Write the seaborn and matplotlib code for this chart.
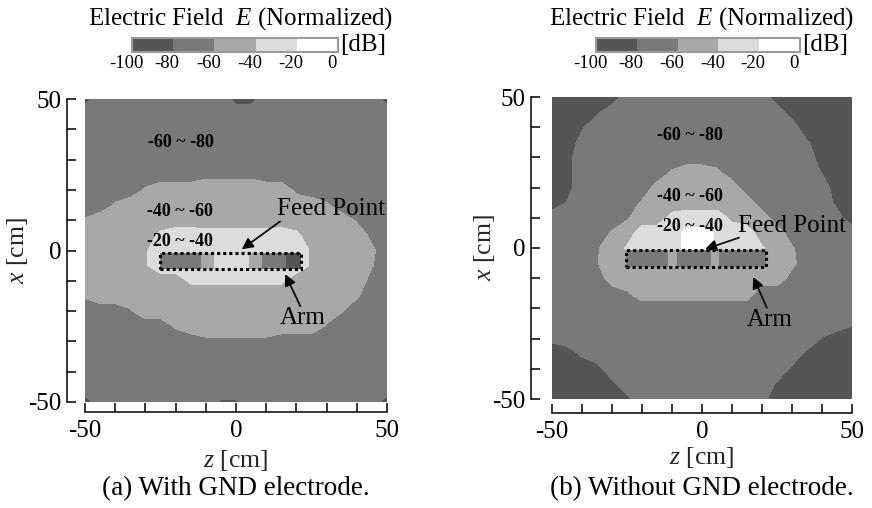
import numpy as np
import matplotlib
matplotlib.use("Agg")
import matplotlib.pyplot as plt
import matplotlib.transforms as mtransforms
from matplotlib.patches import Rectangle
import seaborn as sns

# ---------------- data ----------------
z_cm = [-50, -45, -40, -35, -30, -25, -20, -15, -10, -5, 0, 5, 10, 15, 20, 25, 30, 35, 40, 45, 50]
x_cm = [50, 45, 40, 35, 30, 25, 20, 15, 10, 5, 0, -5, -10, -15, -20, -25, -30, -35, -40, -45, -50]

levels_db = [-100, -80, -60, -40, -20, 0]
level_colors = ["#555555", "#797979", "#a8a8a8", "#dcdcdc", "#ffffff"]
cbar_labels = ["-100", "-80", "-60", "-40", "-20", "0"]

axis_ticks = [-50, -40, -30, -20, -10, 0, 10, 20, 30, 40, 50]
axis_ticklabels = ["-50", "", "", "", "", "0", "", "", "", "", "50"]

# (a) With GND electrode: normalized |E| in dB on the z-x grid (rows: x = 50 ... -50)
field_a = [
    [-86, -70, -70, -70, -70, -70, -70, -70, -70, -70, -86, -86, -70, -70, -70, -70, -70, -70, -70, -70, -86],
    [-70] * 21,
    [-70] * 21,
    [-70] * 21,
    [-70] * 21,
    [-70, -70, -70, -70, -70, -70, -70, -70, -64, -64, -64, -64, -70, -70, -70, -70, -70, -70, -70, -70, -70],
    [-70, -70, -70, -70, -58, -50, -50, -50, -50, -50, -50, -50, -50, -50, -64, -70, -70, -70, -70, -70, -70],
    [-70, -70, -58, -50, -50, -50, -50, -50, -50, -50, -50, -50, -50, -50, -50, -50, -58, -70, -70, -70, -70],
    [-58, -50, -50, -50, -50, -50, -50, -50, -52, -52, -52, -52, -52, -50, -50, -50, -50, -50, -62, -70, -70],
    [-50, -50, -50, -50, -50, -36, -30, -30, -30, -30, -30, -30, -30, -30, -36, -50, -50, -50, -50, -64, -70],
    [-50, -50, -50, -50, -42, -30, -30, -30, -30, -30, -30, -30, -30, -30, -30, -42, -50, -50, -50, -57, -70],
    [-50, -50, -50, -50, -42, -30, -30, -30, -30, -30, -30, -30, -30, -30, -30, -42, -50, -50, -50, -59, -70],
    [-50, -50, -50, -50, -50, -50, -50, -37, -37, -37, -37, -37, -37, -37, -50, -50, -50, -50, -50, -66, -70],
    [-58, -50, -50, -50, -50, -50, -50, -50, -50, -50, -50, -50, -50, -50, -50, -50, -50, -50, -58, -70, -70],
    [-70, -70, -70, -62, -50, -50, -50, -50, -50, -50, -50, -50, -50, -50, -50, -50, -50, -59, -70, -70, -70],
    [-70, -70, -70, -70, -70, -70, -58, -50, -50, -50, -50, -50, -50, -50, -50, -50, -62, -70, -70, -70, -70],
    [-70, -70, -70, -70, -70, -70, -70, -70, -64, -64, -64, -64, -64, -70, -70, -70, -70, -70, -70, -70, -70],
    [-70] * 21,
    [-70] * 21,
    [-70] * 21,
    [-88, -70, -70, -70, -70, -70, -70, -70, -70, -82, -82, -70, -70, -70, -70, -70, -70, -70, -70, -70, -88],
]

# (b) Without GND electrode
field_b = [
    [-90, -90, -90, -90, -90, -70, -70, -70, -70, -70, -70, -70, -70, -70, -70, -90, -90, -90, -90, -90, -90],
    [-90, -90, -90, -83, -70, -70, -70, -70, -70, -70, -70, -70, -70, -70, -70, -70, -90, -90, -90, -90, -90],
    [-90, -90, -82, -70, -70, -70, -70, -70, -70, -70, -70, -70, -70, -70, -70, -70, -70, -95, -90, -90, -90],
    [-90, -90, -74, -70, -70, -70, -70, -70, -70, -70, -70, -70, -70, -70, -70, -70, -70, -78, -90, -90, -90],
    [-90, -86, -70, -70, -70, -70, -70, -70, -70, -70, -70, -70, -70, -70, -70, -70, -70, -70, -90, -90, -90],
    [-90, -86, -70, -70, -70, -70, -70, -70, -58, -50, -50, -56, -70, -70, -70, -70, -70, -70, -81, -90, -90],
    [-90, -86, -70, -70, -70, -70, -70, -54, -50, -50, -50, -50, -50, -70, -70, -70, -70, -70, -70, -90, -90],
    [-90, -79, -70, -70, -70, -70, -58, -50, -50, -50, -50, -50, -50, -50, -70, -70, -70, -70, -70, -84, -90],
    [-70, -70, -70, -70, -70, -62, -50, -50, -34, -30, -30, -30, -44, -50, -50, -70, -70, -70, -70, -74, -90],
    [-70, -70, -70, -70, -58, -50, -30, -30, -30, -14, -14, -22, -30, -30, -50, -50, -70, -70, -70, -70, -70],
    [-70, -70, -70, -62, -50, -38, -30, -30, -30, -14, -14, -22, -30, -30, -38, -50, -58, -70, -70, -70, -70],
    [-70, -70, -70, -61, -50, -50, -45, -45, -45, -45, -45, -45, -45, -45, -45, -50, -56, -70, -70, -70, -70],
    [-70, -70, -70, -70, -50, -50, -50, -50, -50, -50, -50, -50, -50, -50, -50, -50, -66, -70, -70, -70, -70],
    [-70, -70, -70, -70, -70, -62, -50, -50, -50, -50, -50, -50, -50, -50, -70, -70, -70, -70, -70, -70, -70],
    [-70] * 21,
    [-70] * 20 + [-78],
    [-76] + [-70] * 17 + [-81, -90, -90],
    [-90, -90, -77] + [-70] * 14 + [-84, -90, -90, -90],
    [-90, -90, -90, -86] + [-70] * 12 + [-83, -90, -90, -90, -90],
    [-90, -90, -90, -90, -84] + [-70] * 10 + [-82, -90, -90, -90, -90, -90],
    [-90, -90, -90, -90, -90, -84] + [-70] * 8 + [-74, -90, -90, -90, -90, -90, -90],
]

# field along the dipole arm (inside the dotted box)
arm_z = [-25.3, -21, -17, -13, -10, -7, -3, 1, 4, 7, 10, 14, 18, 21.4]
arm_x = [-6.2, -0.7]
arm_a = [-64, -70, -72, -66, -52, -38, -28, -28, -38, -52, -68, -72, -84, -88]
arm_b = [-68, -70, -70, -66, -54, -64, -70, -68, -56, -64, -70, -74, -76, -76]

region_labels = ["-60 ~ -80", "-40 ~ -60", "-20 ~ -40"]
captions = ["(a) With GND electrode.", "(b) Without GND electrode."]

# ---------------- style ----------------
sns.set_theme(style="ticks")
plt.rcParams["font.family"] = ["Liberation Serif", "DejaVu Serif"]
plt.rcParams["mathtext.fontset"] = "custom"
plt.rcParams["mathtext.rm"] = "Liberation Serif"
plt.rcParams["mathtext.it"] = "Liberation Serif:italic"
plt.rcParams["axes.unicode_minus"] = False
plt.rcParams["axes.edgecolor"] = "black"
plt.rcParams["xtick.color"] = "black"
plt.rcParams["ytick.color"] = "black"
plt.rcParams["text.color"] = "black"

W, H = 872, 508
fig = plt.figure(figsize=(W / 100, H / 100), dpi=100)


def fx(px):
    return px / W


def fy(py):
    return 1 - py / H


panels = [
    dict(field=field_a, arm=arm_a,
         ax_box=(85, 99, 387, 402), cbar_box=(132, 38, 338, 52),
         spine_off=(13.0, 7.0), title_x=240, db_x=340,
         labels_xy=[(-29, 35.5), (-29.5, 12.9), (-29.5, 2.9)],
         feed_text=(13.5, 13.7), feed_arrow=((14.6, 9.6), (1.9, 0.4)),
         arm_text=(22, -22.4), arm_arrow=((21.3, -18.4), (16.3, -7.8)),
         caption=captions[0]),
    dict(field=field_b, arm=arm_b,
         ax_box=(552, 97, 852, 399), cbar_box=(596, 38, 800, 52),
         spine_off=(15.0, 10.0), title_x=701, db_x=802,
         labels_xy=[(-15.1, 37.1), (-15.1, 17.0), (-15.1, 7.0)],
         feed_text=(12.1, 7.4), feed_arrow=((12.3, 3.4), (1.0, -0.4)),
         arm_text=(22.4, -23.7), arm_arrow=((21.6, -19.8), (17.1, -9.6)),
         caption=captions[1]),
]

for p in panels:
    l, t, r, b = p["ax_box"]
    ax = fig.add_axes([fx(l), fy(b), fx(r) - fx(l), fy(t) - fy(b)])
    cs = ax.contourf(z_cm, x_cm, np.array(p["field"], dtype=float),
                     levels=levels_db, colors=level_colors)
    ax.contourf(arm_z, arm_x, np.array([p["arm"], p["arm"]], dtype=float),
                levels=levels_db, colors=level_colors)
    ax.add_patch(Rectangle((arm_z[0], arm_x[0]), arm_z[-1] - arm_z[0], arm_x[1] - arm_x[0],
                           fill=False, ec="black", lw=2.2, ls=(0, (1, 1)),
                           capstyle="butt", zorder=5))
    ax.set_xlim(-50, 50)
    ax.set_ylim(-50, 50)
    ax.set_xticks(axis_ticks)
    ax.set_xticklabels(axis_ticklabels)
    ax.set_yticks(axis_ticks)
    ax.set_yticklabels(axis_ticklabels)
    ax.tick_params(direction="in", length=6.5, width=1.1, labelsize=18, pad=4)
    ax.tick_params(axis="x", pad=6)
    for s in ["left", "bottom"]:
        ax.spines[s].set_linewidth(1.1)
    sns.despine(ax=ax, offset={"left": p["spine_off"][0], "bottom": p["spine_off"][1]})
    ax.set_xlabel("$z$ [cm]", fontsize=18.5)
    ax.set_ylabel("$x$ [cm]", fontsize=18.5)
    ax.xaxis.set_label_coords(0.5, -0.152)
    ax.yaxis.set_label_coords(-0.182, 0.5)

    # region labels
    for txt, (zz, xx) in zip(region_labels, p["labels_xy"]):
        ax.text(zz, xx, txt, fontsize=13, fontweight="bold", ha="left", va="center", zorder=6)
    ax.text(*p["feed_text"], "Feed Point", fontsize=18, ha="left", va="center", zorder=6)
    ax.text(*p["arm_text"], "Arm", fontsize=18, ha="center", va="center", zorder=6)
    for (tail, tip) in [p["feed_arrow"], p["arm_arrow"]]:
        ax.annotate("", xy=tip, xytext=tail,
                    arrowprops=dict(arrowstyle="-|>", color="black", lw=1.2,
                                    mutation_scale=17, shrinkA=0, shrinkB=0),
                    zorder=7)

    # colorbar
    cl, ct, cr, cb_ = p["cbar_box"]
    cax = fig.add_axes([fx(cl), fy(cb_), fx(cr) - fx(cl), fy(ct) - fy(cb_)])
    cbar = fig.colorbar(cs, cax=cax, orientation="horizontal", ticks=levels_db)
    cbar.set_ticklabels(cbar_labels)
    cax.tick_params(length=0, labelsize=13.5, pad=2.5)
    cbar.outline.set_edgecolor("#9a9a9a")
    cbar.outline.set_linewidth(1.5)
    offset = mtransforms.ScaledTranslation(-6 / 100, 0, fig.dpi_scale_trans)
    for lab in cax.get_xticklabels():
        lab.set_transform(lab.get_transform() + offset)

    fig.text(fx(p["title_x"]), fy(19), "Electric Field  $E$ (Normalized)",
             fontsize=18, ha="center", va="center")
    fig.text(fx(p["db_x"]), fy(45), "[dB]", fontsize=18, ha="left", va="center")
    fig.text(fx((l + r) / 2), fy(489), p["caption"], fontsize=19.5, ha="center", va="center")

fig.savefig("out.png", dpi=100)
